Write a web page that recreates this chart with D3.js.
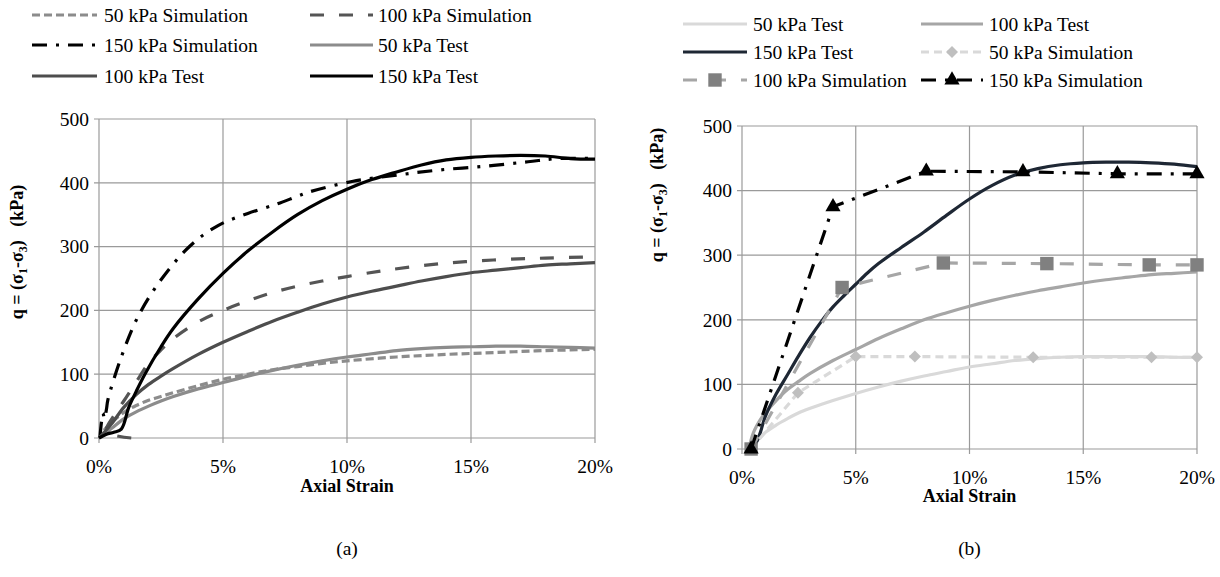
<!DOCTYPE html>
<html><head><meta charset="utf-8">
<script src="https://cdn.jsdelivr.net/npm/d3@7"></script>
<style>
body{margin:0;background:#fff;}
svg, svg text{font-family:"Liberation Serif","Times New Roman",Times,Tinos,"DejaVu Serif","Noto Serif",serif;}
svg text{fill:#000;}
</style></head>
<body><svg id="c" width="1220" height="577" font-family="Liberation Serif, Times New Roman, serif"></svg>
<script>
// ---------- DATA ----------
const xTicks = [0, 5, 10, 15, 20];
const yTicks = [0, 100, 200, 300, 400, 500];

// Chart (a)
const aStrain50T = [0,0.5,1,1.5,2,2.5,3,4,5,6,7,8,9,10,11,12,13,14,15,16,17,18,19,20];
const aQ50T      = [0,15,30,41,50,58,65,77,87,97,106,114,121,127,132,137,140,142,143,144,144,143,142,141];
const aStrain50S = [0.2,0.5,1,1.5,2,2.5,3,4,5,6,7,8,9,10,12,14,16,18,20];
const aQ50S      = [12,24,40,51,59,65,71,82,92,100,107,112,117,121,127,131,134,137,139];
const aStrain100T = [0,0.5,1,1.5,2,2.5,3,4,5,6,7,8,9,10,11,12,13,14,15,16,17,18,19,20];
const aQ100T      = [0,22,48,68,84,97,109,131,150,167,183,197,210,221,230,238,246,253,259,263,267,271,273,275];
const aStrain100S = [1.3,0.3,0.6,1,1.5,2,2.5,3,4,5,6,7,8,9,10,11.6,13.7,15.9,18,20];
const aQ100S      = [0,10,35,58,88,117,138,156,182,200,215,228,238,246,253,263,273,279,282,284];
const aStrain150T = [0,0.3,0.6,0.9,1.2,1.5,1.85,2.5,3,4,5,6,7,8,9,10,11,12,13,14,15,16,17,18,19,20];
const aQ150T      = [0,6,9,14,48,73,100,143,172,218,258,293,323,350,372,390,405,417,428,436,440,442,443,442,438,437];
const aStrain150S = [0.04,0.1,0.16,0.22,0.3,0.36,0.9,1.57,2.5,3.67,4.8,6,7.2,8,8.5,10.2,12,13.7,15.6,17.3,18.5,20];
const aQ150S      = [2,25,39,30,45,60,127,190,248,301,333,352,367,379,386,402,412,420,426,433,438,438];

// Chart (b)
const bStrain50T = [0.4,0.7,1,1.5,2,2.5,3,4,5,6,7,8,9,10,11,12,13,14,15,16,17,18,19,20];
const bQ50T      = [0,14,25,37,47,56,63,75,86,96,105,113,120,127,132,137,140,142,143,143,143,143,142,142];
const bStrain100T = [0.3,0.5,0.8,1,1.5,2,2.5,3,4,5,6,7,8,9,10,11,12,13,14,15,16,17,18,19,20];
const bQ100T      = [0,25,45,55,75,92,105,117,137,154,171,186,200,211,221,230,238,245,251,257,262,266,270,272,274];
const bStrain150T = [0.4,0.6,0.8,1,1.5,2,2.5,3,3.5,4,4.5,5,5.5,6,7,8,9,10,11,12,13,14,15,16,17,18,19,20];
const bQ150T      = [0,8,25,48,85,115,145,173,198,220,238,255,272,287,312,336,362,387,408,424,434,440,443,444,444,443,441,437];
const bStrain50S = [0.4,2.46,5.0,7.6,12.8,18,20];
const bQ50S      = [0,87,143,143,142,142,142];
const bStrain100S = [0.4,4.4,8.85,13.4,17.9,20];
const bQ100S      = [0,250,288,287,285,285];
const bStrain150S = [0.4,4.0,8.1,12.35,16.5,20];
const bQ150S      = [0,375,430,429,426,426];

const zip = (xs, ys) => xs.map((x, i) => ({x, y: ys[i]}));

// ---------- STYLES ----------
const seriesA = [
  {name:"50 kPa Simulation", data: zip(aStrain50S,aQ50S), color:"#8c8c8c", dash:"8,4", curve:"smooth"},
  {name:"100 kPa Simulation", data: zip(aStrain100S,aQ100S), color:"#555555", dash:"14,15", curve:"smooth"},
  {name:"150 kPa Simulation", data: zip(aStrain150S,aQ150S), color:"#000000", dash:"15,9,3,9", curve:"smooth"},
  {name:"50 kPa Test", data: zip(aStrain50T,aQ50T), color:"#8c8c8c", dash:null, curve:"smooth"},
  {name:"100 kPa Test", data: zip(aStrain100T,aQ100T), color:"#4d4d4d", dash:null, curve:"smooth"},
  {name:"150 kPa Test", data: zip(aStrain150T,aQ150T), color:"#000000", dash:null, curve:"smooth"}
];
const seriesB = [
  {name:"50 kPa Test", data: zip(bStrain50T,bQ50T), color:"#d9d9d9", dash:null, curve:"smooth"},
  {name:"100 kPa Test", data: zip(bStrain100T,bQ100T), color:"#a6a6a6", dash:null, curve:"smooth"},
  {name:"150 kPa Test", data: zip(bStrain150T,bQ150T), color:"#1e2734", dash:null, curve:"smooth"},
  {name:"50 kPa Simulation", data: zip(bStrain50S,bQ50S), color:"#d9d9d9", dash:"8,5", curve:"linear", marker:"diamond", mcolor:"#bfbfbf"},
  {name:"100 kPa Simulation", data: zip(bStrain100S,bQ100S), color:"#a6a6a6", dash:"14,15", curve:"linear", marker:"square", mcolor:"#808080"},
  {name:"150 kPa Simulation", data: zip(bStrain150S,bQ150S), color:"#000000", dash:"15,9,3,9", curve:"linear", marker:"triangle", mcolor:"#000000"}
];

const svg = d3.select("#c");
const FONT = 19.5;
const FAM = "'Liberation Serif','Times New Roman',Times,Tinos,'DejaVu Serif',serif";

function markerPath(type){
  if (type==="diamond") return d3.symbol().type(d3.symbolSquare).size(72)();
  if (type==="square") return d3.symbol().type(d3.symbolSquare).size(180)();
  return d3.symbol().type(d3.symbolTriangle).size(100)();
}
function markerRot(type){ return type==="diamond" ? " rotate(45)" : ""; }

function txt(sel){ return sel.append("text").style("font-family", FAM); }

function drawChart(cfg){
  const g = svg.append("g");
  const x = d3.scaleLinear().domain([0,20]).range([cfg.x0, cfg.x1]);
  const y = d3.scaleLinear().domain([0,500]).range([cfg.y0, cfg.y1]);
  const grid = "#9a9a9a";
  g.append("g").selectAll("line").data(xTicks).join("line")
    .attr("x1", d=>x(d)).attr("x2", d=>x(d)).attr("y1", y(500)).attr("y2", y(0)+5)
    .attr("stroke", grid).attr("stroke-width",1.2);
  g.append("g").selectAll("line").data(yTicks).join("line")
    .attr("x1", x(0)-5).attr("x2", x(20)).attr("y1", d=>y(d)).attr("y2", d=>y(d))
    .attr("stroke", grid).attr("stroke-width",1.2);
  g.append("g").selectAll("text").data(yTicks).join("text").style("font-family", FAM)
    .attr("x", x(0)-10).attr("y", d=>y(d)).attr("dy","0.35em")
    .attr("text-anchor","end").attr("font-size",FONT).text(d=>d);
  g.append("g").selectAll("text").data(xTicks).join("text").style("font-family", FAM)
    .attr("x", d=>x(d)).attr("y", y(0)+28).attr("dy","0.35em")
    .attr("text-anchor","middle").attr("font-size",FONT).text(d=>d+"%");
  txt(g).attr("x", (cfg.x0+cfg.x1)/2).attr("y", cfg.xTitleY)
    .attr("text-anchor","middle").attr("font-size",18).attr("font-weight","bold").text("Axial Strain");
  const yt = txt(g).attr("transform",`translate(${cfg.yTitleX},${cfg.yTitleY}) rotate(-90)`)
    .attr("text-anchor","middle").attr("font-size",18).attr("font-weight","bold").attr("dy","0.35em");
  yt.append("tspan").text("q = (σ");
  yt.append("tspan").attr("font-size",12).attr("dy",4).text("1");
  yt.append("tspan").attr("dy",-4).text("-σ");
  yt.append("tspan").attr("font-size",12).attr("dy",4).text("3");
  yt.append("tspan").attr("dy",-4).text(")\u00a0\u00a0\u00a0(kPa)");
  txt(g).attr("x",(cfg.x0+cfg.x1)/2).attr("y",548).attr("dy","0.35em")
    .attr("text-anchor","middle").attr("font-size",FONT).text(cfg.label);
  cfg.series.forEach(s=>{
    const line = d3.line().x(d=>x(d.x)).y(d=>y(d.y))
      .curve(s.curve==="smooth" ? d3.curveCatmullRom.alpha(0.5) : d3.curveLinear);
    g.append("path").datum(s.data).attr("d", line).attr("fill","none")
      .attr("stroke", s.color).attr("stroke-width",3.2)
      .attr("stroke-dasharray", s.dash).attr("stroke-linejoin","round");
    if (s.marker){
      g.append("g").selectAll("path").data(s.data).join("path")
        .attr("d", markerPath(s.marker))
        .attr("transform", d=>`translate(${x(d.x)},${y(d.y)})${markerRot(s.marker)}`)
        .attr("fill", s.mcolor);
    }
  });
  cfg.series.forEach((s,i)=>{
    const p = cfg.legendPos[i];
    const lg = g.append("g");
    lg.append("line").attr("x1",p[0]).attr("x2",p[1]).attr("y1",p[3]).attr("y2",p[3])
      .attr("stroke", s.color).attr("stroke-width",3.2).attr("stroke-dasharray", s.dash);
    if (s.marker){
      lg.append("path").attr("d", markerPath(s.marker))
        .attr("transform",`translate(${(p[0]+p[1])/2},${p[3]})${markerRot(s.marker)}`).attr("fill", s.mcolor);
    }
    txt(lg).attr("x",p[2]).attr("y",p[3]).attr("dy","0.35em")
      .attr("font-size",FONT).text(s.name);
  });
}

drawChart({
  x0:99, x1:595, y0:438, y1:119, series:seriesA, label:"(a)",
  xTitleY:492, yTitleX:17, yTitleY:252,
  legendPos:[[32,97,104,15],[310,373,378,15],[32,97,104,45],[310,373,378,45],[32,97,104,76],[310,373,378,76]]
});
drawChart({
  x0:742, x1:1197, y0:449, y1:126, series:seriesB, label:"(b)",
  xTitleY:502, yTitleX:657, yTitleY:195,
  legendPos:[[683,747,753,24],[921,983,989,24],[683,747,753,52],[921,983,989,52],[683,747,753,80],[921,983,989,80]]
});
</script></body></html>
